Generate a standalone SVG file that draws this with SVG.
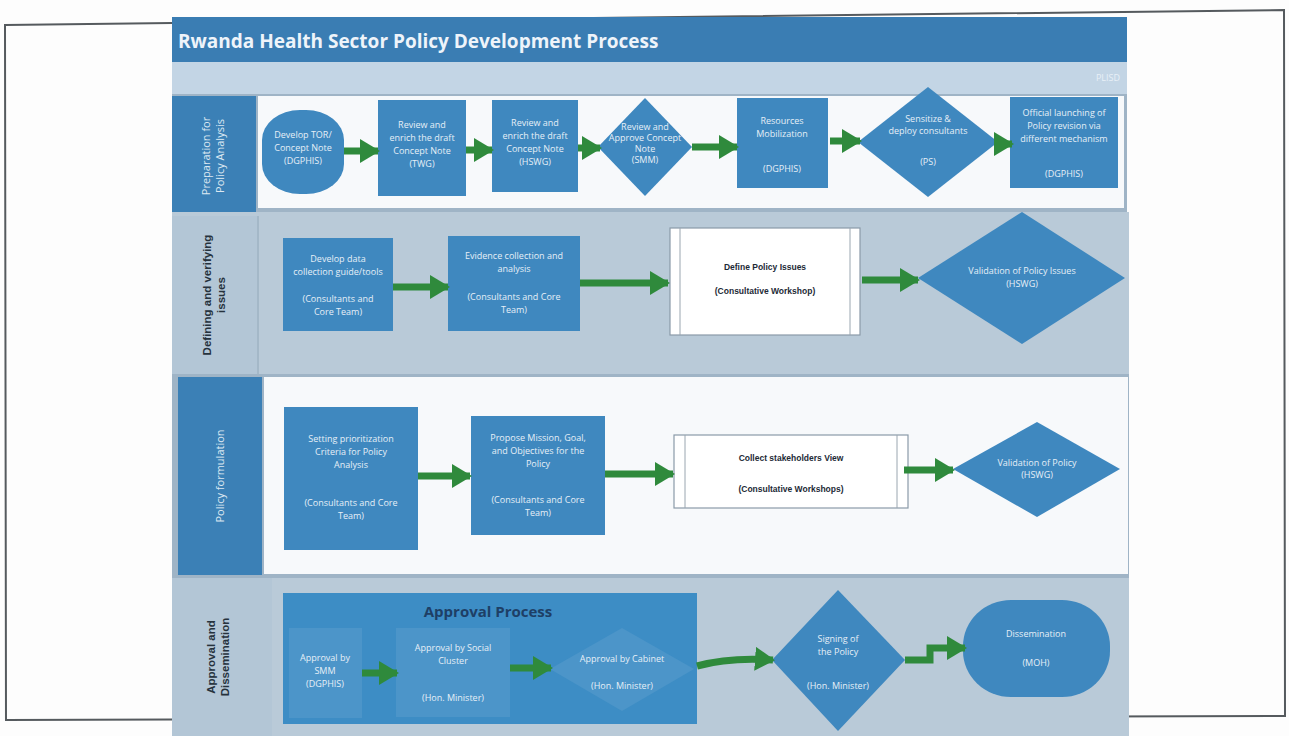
<svg xmlns="http://www.w3.org/2000/svg" width="1289" height="736" viewBox="0 0 1289 736">
  <defs>
    <style>
      .page { fill: #fdfdfd; }
      .frame { fill: none; stroke: #555a5e; stroke-width: 2; }
      .title-bar { fill: #3a7db3; }
      .band { fill: #c3d5e5; }
      .lane-white { fill: #f7f9fb; }
      .lane-grey { fill: #b9cad8; }
      .hdr-dark { fill: #3b80b6; }
      .hdr-light { fill: #b3c6d6; }
      .sep { fill: #9fb4c6; }
      .node { fill: #3f88bf; }
      .node-faded { fill: #4c95c9; }
      .container { fill: #3d8dc5; }
      .box-white { fill: #ffffff; stroke: #8a9aa8; stroke-width: 1.2; }
      .inner-line { stroke: #9aa6b0; stroke-width: 1; }
      .t { font-family: "Open Sans", "Liberation Sans", sans-serif; fill: #e6eff7; font-size: 9px; text-anchor: middle; }
      .tw { font-family: "Liberation Sans", "Open Sans", sans-serif; fill: #1d2a36; font-size: 8.5px; font-weight: bold; text-anchor: middle; }
      .title { font-family: "Open Sans", "Liberation Sans", sans-serif; fill: #eef4fa; font-size: 19px; font-weight: bold; }
      .lane-lbl-w { font-family: "Open Sans", "Liberation Sans", sans-serif; fill: #dce8f2; font-size: 11px; text-anchor: middle; }
      .lane-lbl-d { font-family: "Liberation Sans", "Open Sans", sans-serif; fill: #26323d; font-size: 11.5px; font-weight: bold; text-anchor: middle; }
      .cont-title { font-family: "Open Sans", "Liberation Sans", sans-serif; fill: #1e3f66; font-size: 15px; font-weight: bold; text-anchor: middle; }
      .arrow { fill: none; stroke: #2f8a3c; stroke-width: 7; }
    </style>
    <marker id="head" markerUnits="userSpaceOnUse" markerWidth="20" markerHeight="24" refX="18" refY="12" orient="auto">
      <path d="M0,0 L20,12 L0,24 Z" fill="#2f8a3c"/>
    </marker>
  </defs>

  <!-- paper and frame -->
  <rect class="page" x="0" y="0" width="1289" height="736"/>
  <polygon class="frame" points="5,25 1284,10 1285,716 6,720"/>

  <!-- title bar -->
  <rect class="title-bar" x="172" y="17" width="955" height="45"/>
  <text class="title" x="178" y="48">Rwanda Health Sector Policy Development Process</text>
  <rect class="band" x="172" y="62" width="955" height="32"/>
  <text x="1108" y="81" font-family="Open Sans, Liberation Sans, sans-serif" font-size="9" fill="#e8f0f7" text-anchor="middle">PLISD</text>

  <!-- lanes -->
  <g id="lane-preparation">
    <rect class="sep" x="172" y="94" width="955" height="120"/>
    <rect class="lane-white" x="258" y="96" width="866" height="112"/>
    <rect class="hdr-dark" x="172" y="96" width="84" height="120"/>
    <text class="lane-lbl-w" transform="translate(214,156) rotate(-90)"><tspan x="0" y="-4">Preparation for</tspan><tspan x="0" y="10">Policy Analysis</tspan></text>
  </g>
  <g id="lane-defining">
    <rect class="lane-grey" x="172" y="212" width="957" height="162"/>
    <rect class="hdr-light" x="172" y="216" width="86" height="158"/>
    <line x1="258" y1="216" x2="258" y2="374" stroke="#a4b8c8" stroke-width="2"/>
    <text class="lane-lbl-d" transform="translate(215,295) rotate(-90)"><tspan x="0" y="-4">Defining and verifying</tspan><tspan x="0" y="10">issues</tspan></text>
  </g>
  <g id="lane-formulation">
    <rect class="sep" x="172" y="374" width="957" height="204"/>
    <rect class="lane-white" x="264" y="377" width="864" height="197"/>
    <rect class="hdr-dark" x="178" y="377" width="84" height="198"/>
    <text class="lane-lbl-w" transform="translate(224,476) rotate(-90)"><tspan x="0" y="0">Policy formulation</tspan></text>
  </g>
  <g id="lane-approval">
    <rect class="lane-grey" x="172" y="578" width="957" height="158"/>
    <rect class="hdr-light" x="172" y="578" width="100" height="158"/>
    <text class="lane-lbl-d" transform="translate(219,657) rotate(-90)"><tspan x="0" y="-4">Approval and</tspan><tspan x="0" y="10">Dissemination</tspan></text>
  </g>

  <!-- lane 1 nodes -->
  <g id="n-develop-tor">
    <rect class="node" x="262" y="110" width="82" height="84" rx="38" ry="30"/>
    <text class="t"><tspan x="303" y="138">Develop TOR/</tspan><tspan x="303" y="151">Concept Note</tspan><tspan x="303" y="164">(DGPHIS)</tspan></text>
  </g>
  <g id="n-review-twg">
    <rect class="node" x="378" y="100" width="88" height="96"/>
    <text class="t"><tspan x="422" y="128">Review and</tspan><tspan x="422" y="141">enrich the draft</tspan><tspan x="422" y="154">Concept Note</tspan><tspan x="422" y="167">(TWG)</tspan></text>
  </g>
  <g id="n-review-hswg">
    <rect class="node" x="492" y="100" width="86" height="92"/>
    <text class="t"><tspan x="535" y="126">Review and</tspan><tspan x="535" y="139">enrich the draft</tspan><tspan x="535" y="152">Concept Note</tspan><tspan x="535" y="165">(HSWG)</tspan></text>
  </g>
  <g id="n-approve-note">
    <polygon class="node" points="645,98 692,147 645,196 598,147"/>
    <text class="t" font-size="7"><tspan x="645" y="130">Review and</tspan><tspan x="645" y="141">Approve Concept</tspan><tspan x="645" y="152">Note</tspan><tspan x="645" y="163">(SMM)</tspan></text>
  </g>
  <g id="n-resources">
    <rect class="node" x="737" y="98" width="91" height="90"/>
    <text class="t"><tspan x="782" y="124">Resources</tspan><tspan x="782" y="137">Mobilization</tspan><tspan x="782" y="172">(DGPHIS)</tspan></text>
  </g>
  <g id="n-sensitize">
    <polygon class="node" points="928,87 998,142 928,197 858,142"/>
    <text class="t" font-size="8"><tspan x="928" y="122">Sensitize &amp;</tspan><tspan x="928" y="134">deploy consultants</tspan><tspan x="928" y="165">(PS)</tspan></text>
  </g>
  <g id="n-launching">
    <rect class="node" x="1010" y="97" width="108" height="91"/>
    <text class="t" font-size="8.5"><tspan x="1064" y="116">Official launching of</tspan><tspan x="1064" y="129">Policy revision via</tspan><tspan x="1064" y="142">different mechanism</tspan><tspan x="1064" y="177">(DGPHIS)</tspan></text>
  </g>

  <!-- lane 2 nodes -->
  <g id="n-data-tools">
    <rect class="node" x="283" y="238" width="110" height="93"/>
    <text class="t"><tspan x="338" y="262">Develop data</tspan><tspan x="338" y="275">collection guide/tools</tspan><tspan x="338" y="302">(Consultants and</tspan><tspan x="338" y="315">Core Team)</tspan></text>
  </g>
  <g id="n-evidence">
    <rect class="node" x="448" y="236" width="132" height="95"/>
    <text class="t"><tspan x="514" y="259">Evidence collection and</tspan><tspan x="514" y="272">analysis</tspan><tspan x="514" y="300">(Consultants and Core</tspan><tspan x="514" y="313">Team)</tspan></text>
  </g>
  <g id="n-define-issues">
    <rect class="box-white" x="670" y="228" width="190" height="107"/>
    <line class="inner-line" x1="680" y1="228" x2="680" y2="335"/>
    <line class="inner-line" x1="850" y1="228" x2="850" y2="335"/>
    <text class="tw"><tspan x="765" y="270">Define Policy Issues</tspan><tspan x="765" y="294">(Consultative Workshop)</tspan></text>
  </g>
  <g id="n-validate-issues">
    <polygon class="node" points="1022,212 1125,278 1022,344 918,278"/>
    <text class="t"><tspan x="1022" y="274">Validation of Policy Issues</tspan><tspan x="1022" y="287">(HSWG)</tspan></text>
  </g>

  <!-- lane 3 nodes -->
  <g id="n-criteria">
    <rect class="node" x="284" y="407" width="134" height="143"/>
    <text class="t"><tspan x="351" y="442">Setting prioritization</tspan><tspan x="351" y="455">Criteria for Policy</tspan><tspan x="351" y="468">Analysis</tspan><tspan x="351" y="506">(Consultants and Core</tspan><tspan x="351" y="519">Team)</tspan></text>
  </g>
  <g id="n-mission">
    <rect class="node" x="471" y="416" width="134" height="119"/>
    <text class="t"><tspan x="538" y="441">Propose Mission, Goal,</tspan><tspan x="538" y="454">and Objectives for the</tspan><tspan x="538" y="467">Policy</tspan><tspan x="538" y="503">(Consultants and Core</tspan><tspan x="538" y="516">Team)</tspan></text>
  </g>
  <g id="n-stakeholders">
    <rect class="box-white" x="674" y="435" width="234" height="73"/>
    <line class="inner-line" x1="685" y1="435" x2="685" y2="508"/>
    <line class="inner-line" x1="897" y1="435" x2="897" y2="508"/>
    <text class="tw"><tspan x="791" y="461">Collect stakeholders View</tspan><tspan x="791" y="492">(Consultative Workshops)</tspan></text>
  </g>
  <g id="n-validate-policy">
    <polygon class="node" points="1037,422 1120,469 1037,517 953,469"/>
    <text class="t" font-size="8.5"><tspan x="1037" y="466">Validation of Policy</tspan><tspan x="1037" y="478">(HSWG)</tspan></text>
  </g>

  <!-- lane 4 nodes -->
  <g id="n-approval-process">
    <rect class="container" x="283" y="593" width="414" height="131"/>
    <text class="cont-title" x="488" y="617">Approval Process</text>
  </g>
  <g id="n-approve-smm">
    <rect class="node-faded" x="289" y="628" width="73" height="90"/>
    <text class="t"><tspan x="325" y="661">Approval by</tspan><tspan x="325" y="674">SMM</tspan><tspan x="325" y="687">(DGPHIS)</tspan></text>
  </g>
  <g id="n-approve-cluster">
    <rect class="node-faded" x="396" y="628" width="114" height="89"/>
    <text class="t"><tspan x="453" y="651">Approval by Social</tspan><tspan x="453" y="664">Cluster</tspan><tspan x="453" y="701">(Hon. Minister)</tspan></text>
  </g>
  <g id="n-approve-cabinet">
    <polygon class="node-faded" points="622,628 694,669 622,711 550,669"/>
    <text class="t"><tspan x="622" y="662">Approval by Cabinet</tspan><tspan x="622" y="689">(Hon. Minister)</tspan></text>
  </g>
  <g id="n-signing">
    <polygon class="node" points="838,590 905,660 838,731 772,660"/>
    <text class="t"><tspan x="838" y="642">Signing of</tspan><tspan x="838" y="655">the Policy</tspan><tspan x="838" y="689">(Hon. Minister)</tspan></text>
  </g>
  <g id="n-dissemination">
    <rect class="node" x="963" y="600" width="147" height="97" rx="48" ry="46"/>
    <text class="t"><tspan x="1036" y="637">Dissemination</tspan><tspan x="1036" y="666">(MOH)</tspan></text>
  </g>

  <!-- connectors -->
  <g id="connectors">
    <line class="arrow" x1="344" y1="151" x2="378" y2="151" marker-end="url(#head)"/>
    <line class="arrow" x1="466" y1="150" x2="492" y2="150" marker-end="url(#head)"/>
    <line class="arrow" x1="578" y1="148" x2="600" y2="148" marker-end="url(#head)"/>
    <line class="arrow" x1="692" y1="147" x2="737" y2="147" marker-end="url(#head)"/>
    <line class="arrow" x1="830" y1="141" x2="860" y2="141" marker-end="url(#head)"/>
    <line class="arrow" x1="996" y1="144" x2="1012" y2="144" marker-end="url(#head)"/>

    <line class="arrow" x1="393" y1="287" x2="448" y2="287" marker-end="url(#head)"/>
    <line class="arrow" x1="580" y1="283" x2="668" y2="283" marker-end="url(#head)"/>
    <line class="arrow" x1="862" y1="280" x2="918" y2="280" marker-end="url(#head)"/>

    <line class="arrow" x1="418" y1="476" x2="470" y2="476" marker-end="url(#head)"/>
    <line class="arrow" x1="605" y1="474" x2="673" y2="474" marker-end="url(#head)"/>
    <line class="arrow" x1="904" y1="470" x2="953" y2="470" marker-end="url(#head)"/>

    <line class="arrow" x1="362" y1="673" x2="397" y2="673" marker-end="url(#head)"/>
    <line class="arrow" x1="510" y1="668" x2="551" y2="668" marker-end="url(#head)"/>
    <path class="arrow" d="M697,666 Q730,657 773,660" marker-end="url(#head)"/>
    <path class="arrow" d="M905,660 L930,660 L930,648 L965,648" marker-end="url(#head)"/>
  </g>
</svg>
